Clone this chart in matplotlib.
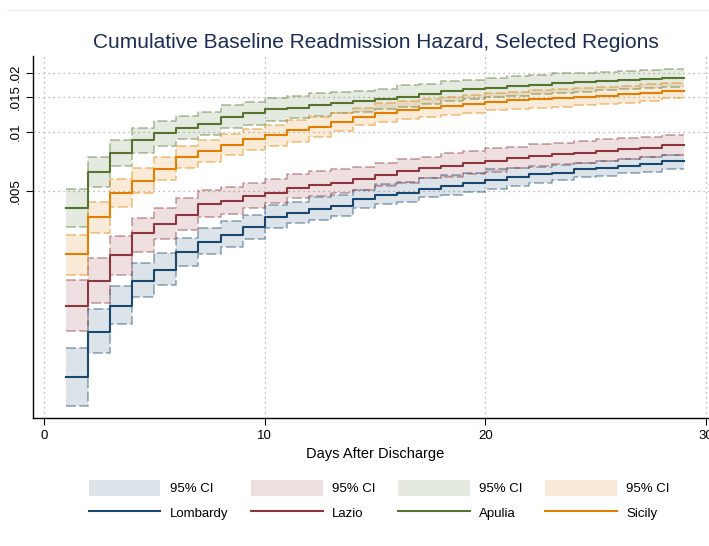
import numpy as np
import matplotlib.pyplot as plt
from matplotlib.lines import Line2D
from matplotlib.patches import Patch

plt.rcParams["font.family"] = ["Liberation Sans", "DejaVu Sans"]

# =============================================================================
# Data: cumulative baseline hazard, one value per day interval (day 1 -> 29)
# =============================================================================

days = list(range(1, 30))
regions = ["Lombardy", "Lazio", "Apulia", "Sicily"]

lombardy = [0.000560, 0.000951, 0.001300, 0.001737, 0.001976, 0.002433, 0.002755,
            0.002982, 0.003264, 0.003671, 0.003848, 0.004033, 0.004207, 0.004551,
            0.004770, 0.004900, 0.005101, 0.005302, 0.005474, 0.005690, 0.005894,
            0.006105, 0.006199, 0.006452, 0.006575, 0.006707, 0.006843, 0.007112]
lombardy_hi = [0.000788, 0.001245, 0.001638, 0.002138, 0.002405, 0.002869, 0.003227,
               0.003515, 0.003772, 0.004242, 0.004410, 0.004643, 0.004770, 0.005059,
               0.005429, 0.005577, 0.005805, 0.006033, 0.006199, 0.006452, 0.006590,
               0.006653, 0.006786, 0.006973, 0.007112, 0.007256, 0.007428, 0.007632]
lombardy_lo = [0.000400, 0.000743, 0.001048, 0.001434, 0.001657, 0.002072, 0.002377,
               0.002580, 0.002845, 0.003227, 0.003421, 0.003556, 0.003728, 0.004080,
               0.004292, 0.004410, 0.004643, 0.004770, 0.004958, 0.005101, 0.005333,
               0.005512, 0.005690, 0.005874, 0.005964, 0.006156, 0.006272, 0.006452]

lazio = [0.001300, 0.001743, 0.002357, 0.003042, 0.003393, 0.003772, 0.004306,
         0.004430, 0.004715, 0.004912, 0.005210, 0.005396, 0.005493, 0.005757,
         0.006033, 0.006324, 0.006528, 0.006707, 0.006923, 0.007139, 0.007385,
         0.007542, 0.007721, 0.007784, 0.008000, 0.008160, 0.008257, 0.008584]
lazio_hi = [0.001757, 0.002268, 0.002947, 0.003628, 0.004080, 0.004588, 0.005059,
            0.005241, 0.005525, 0.005770, 0.006135, 0.006310, 0.006452, 0.006653,
            0.006923, 0.007256, 0.007482, 0.007784, 0.008030, 0.008257, 0.008414,
            0.008654, 0.008819, 0.009028, 0.009179, 0.009288, 0.009463, 0.009654]
lazio_lo = [0.000969, 0.001346, 0.001864, 0.002451, 0.002835, 0.003162, 0.003671,
            0.003816, 0.004080, 0.004358, 0.004588, 0.004715, 0.004866, 0.005059,
            0.005302, 0.005512, 0.005805, 0.005915, 0.006105, 0.006272, 0.006590,
            0.006707, 0.006843, 0.006973, 0.007112, 0.007256, 0.007428, 0.007632]

apulia = [0.004080, 0.006272, 0.007841, 0.009103, 0.009849, 0.010445, 0.011024,
          0.011971, 0.012455, 0.013055, 0.013305, 0.013734, 0.014108, 0.014393,
          0.014735, 0.015137, 0.015568, 0.016185, 0.016513, 0.016827, 0.017108,
          0.017370, 0.017722, 0.017931, 0.018206, 0.018421, 0.018575, 0.018923]
apulia_hi = [0.005101, 0.007482, 0.009103, 0.010445, 0.011379, 0.012068, 0.012691,
             0.013734, 0.014274, 0.014855, 0.015263, 0.015753, 0.015942, 0.016185,
             0.016513, 0.017370, 0.017579, 0.018206, 0.018421, 0.018793, 0.019239,
             0.019534, 0.019930, 0.020072, 0.020309, 0.020549, 0.020596, 0.020959]
apulia_lo = [0.003287, 0.005259, 0.006707, 0.007841, 0.008483, 0.009179, 0.009654,
             0.010445, 0.010857, 0.011420, 0.011745, 0.012068, 0.012455, 0.012691,
             0.013148, 0.013492, 0.013845, 0.014393, 0.014769, 0.015050, 0.015298,
             0.015568, 0.015888, 0.016076, 0.016379, 0.016573, 0.016711, 0.017025]

sicily = [0.002377, 0.003671, 0.004866, 0.005643, 0.006474, 0.007428, 0.007980,
          0.008584, 0.009179, 0.009654, 0.010238, 0.010642, 0.011287, 0.011927,
          0.012545, 0.012946, 0.013208, 0.013571, 0.013896, 0.014274, 0.014509,
          0.014681, 0.014962, 0.015137, 0.015316, 0.015568, 0.015753, 0.016241]
sicily_hi = [0.002982, 0.004410, 0.005737, 0.006528, 0.007482, 0.008483, 0.009103,
             0.009768, 0.010323, 0.010857, 0.011513, 0.011971, 0.012545, 0.013208,
             0.014009, 0.014443, 0.014681, 0.015137, 0.015443, 0.015753, 0.016057,
             0.016379, 0.016513, 0.016827, 0.017025, 0.017167, 0.017579, 0.017722]
sicily_lo = [0.001864, 0.003042, 0.004158, 0.004866, 0.005690, 0.006528, 0.007055,
             0.007632, 0.008094, 0.008483, 0.008923, 0.009397, 0.010118, 0.010794,
             0.011287, 0.011609, 0.011971, 0.012211, 0.012545, 0.012995, 0.013100,
             0.013208, 0.013462, 0.013734, 0.013896, 0.014108, 0.014443, 0.014855]

x_ticks = [0, 10, 20, 30]
y_ticks = [0.005, 0.01, 0.015, 0.02]
y_tick_labels = [".005", ".01", ".015", ".02"]

# Stata s2color-ish palette
colors = ["#1a476f", "#90353b", "#55752f", "#e37e00"]

series = [
    (lombardy, lombardy_lo, lombardy_hi),
    (lazio, lazio_lo, lazio_hi),
    (apulia, apulia_lo, apulia_hi),
    (sicily, sicily_lo, sicily_hi),
]


def step_values(vals):
    # repeat last value so the final step reaches the last day
    return list(vals) + [vals[-1]]


# =============================================================================
# Plot
# =============================================================================

fig = plt.figure(figsize=(7.09, 5.46), dpi=100)
ax = fig.add_axes([33 / 709, 128 / 546, 684 / 709, 362 / 546])

for (est, lo, hi), color in zip(series, colors):
    ax.fill_between(days, step_values(lo), step_values(hi), step="post",
                    color=color, alpha=0.15, linewidth=0, zorder=2)
    for bound in (lo, hi):
        ax.step(days, step_values(bound), where="post", color=color,
                alpha=0.5, linewidth=1.1, linestyle=(0, (6.5, 2.2)), zorder=3)
    ax.step(days, step_values(est), where="post", color=color,
            linewidth=1.5, zorder=4)

ax.set_yscale("log")
ax.set_xlim(-0.5, 30.5)
ax.set_ylim(0.0003475, 0.02442)

ax.set_xticks(x_ticks)
ax.set_xticklabels([str(t) for t in x_ticks])
ax.set_yticks(y_ticks)
ax.set_yticklabels(y_tick_labels, rotation=90, va="center")
ax.yaxis.set_minor_locator(plt.NullLocator())
ax.tick_params(axis="both", labelsize=9.5, length=5, width=0.8, colors="black")
ax.tick_params(axis="y", pad=3)

for v in y_ticks:
    ax.axhline(v, color="#a8a8a8", linewidth=0.9, linestyle=(0, (1, 3)), zorder=1)
for v in x_ticks:
    ax.axvline(v, color="#a8a8a8", linewidth=0.9, linestyle=(0, (1, 3)), zorder=1)

ax.spines["top"].set_visible(False)
ax.spines["right"].set_visible(False)
ax.spines["left"].set_linewidth(1.0)
ax.spines["bottom"].set_linewidth(1.0)

ax.set_xlabel("Days After Discharge", fontsize=10.5, labelpad=4)

fig.text(0.53, 1 - 42 / 546, "Cumulative Baseline Readmission Hazard, Selected Regions",
         ha="center", va="center", fontsize=15, color="#1c2c54")

# faint frame line at the very top
fig.add_artist(Line2D([7 / 709, 1.0], [1 - 10 / 546, 1 - 10 / 546],
                      color="#ececec", linewidth=0.8))

handles = []
labels = []
for name, color in zip(regions, colors):
    handles.append(Patch(facecolor=color, alpha=0.15, edgecolor="none"))
    labels.append("95% CI")
    handles.append(Line2D([], [], color=color, linewidth=1.5))
    labels.append(name)

fig.legend(handles, labels, ncol=4, loc="center", bbox_to_anchor=(379 / 709, 1 - 500.5 / 546),
           frameon=False, fontsize=9.5, handlelength=5.45, handleheight=1.5,
           handletextpad=0.7, columnspacing=1.7, labelspacing=0.68,
           borderpad=0.2)

fig.savefig("out.png", dpi=100)
